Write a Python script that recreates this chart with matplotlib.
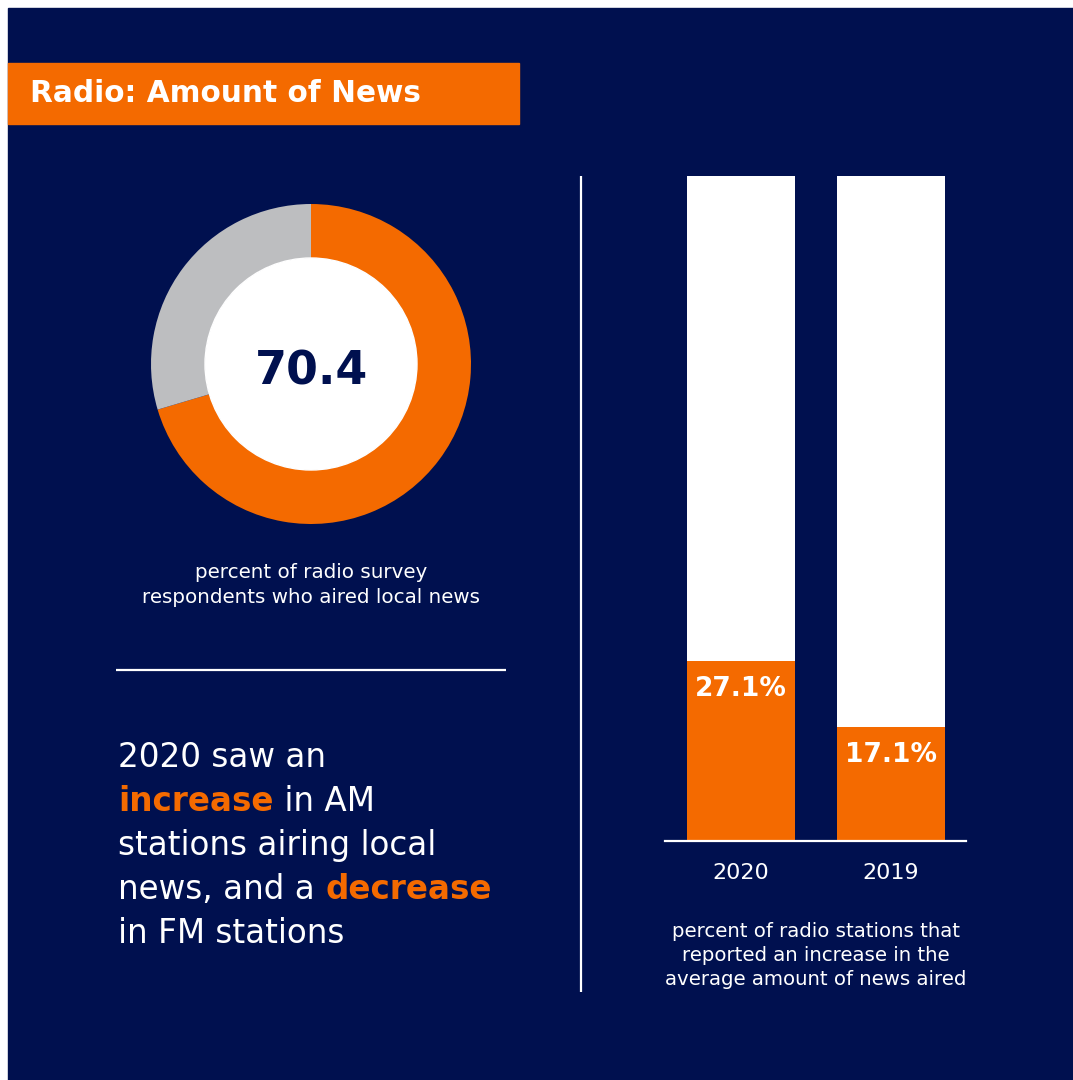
import matplotlib
matplotlib.use("Agg")
import matplotlib.pyplot as plt
from matplotlib.patches import Rectangle, Circle

# ---- data ----
title = "Radio: Amount of News"
donut_values = [70.4, 29.6]
donut_center_label = "70.4"
donut_caption = ["percent of radio survey", "respondents who aired local news"]
bar_years = ["2020", "2019"]
bar_values = [27.1, 17.1]
bar_total = 100
bar_caption = ["percent of radio stations that", "reported an increase in the", "average amount of news aired"]
statement = [
    [("2020 saw an", False)],
    [("increase", True), (" in AM", False)],
    [("stations airing local", False)],
    [("news, and a ", False), ("decrease", True)],
    [("in FM stations", False)],
]

NAVY = "#00104F"
ORANGE = "#F46A00"
GREY = "#BDBEC0"
WHITE = "#FFFFFF"

W, H = 1073, 1080
fig = plt.figure(figsize=(W / 100, H / 100), dpi=100, facecolor="white")
plt.rcParams['font.family'] = ['DejaVu Sans']


def px_axes(x0, y0, x1, y1, **kw):
    return fig.add_axes([x0 / W, 1 - y1 / H, (x1 - x0) / W, (y1 - y0) / H], **kw)

# background overlay axes in pixel coords
bg = fig.add_axes([0, 0, 1, 1], zorder=0)
bg.set_xlim(0, W)
bg.set_ylim(H, 0)
bg.axis("off")
bg.add_patch(Rectangle((8, 8), W, H, color=NAVY, zorder=0))

# title banner
bg.add_patch(Rectangle((8, 63), 511, 61, color=ORANGE, zorder=1))
bg.text(30, 102, title, color=WHITE, fontsize=21.3, fontweight="bold",
        va="baseline", ha="left", zorder=2)

# donut caption
for i, line in enumerate(donut_caption):
    bg.text(311, 578 + i * 25, line, color=WHITE, fontsize=14.3,
            ha="center", va="baseline")

# horizontal divider
bg.plot([116, 506], [670, 670], color=WHITE, lw=1.6, solid_capstyle="butt")
# vertical divider
bg.plot([581, 581], [176, 992], color=WHITE, lw=1.6, solid_capstyle="butt")

# statement with highlighted words
for i, parts in enumerate(statement):
    y = 767 + i * 44
    prev = None
    for txt, hl in parts:
        kw = dict(color=ORANGE if hl else WHITE, fontsize=23.5,
                  fontweight="bold" if hl else "normal")
        if prev is None:
            prev = bg.text(118, y, txt, ha="left", va="baseline", **kw)
        else:
            prev = bg.annotate(txt, xy=(1, 0), xycoords=prev, ha="left",
                               va="bottom", **kw)

# bar caption
for i, line in enumerate(bar_caption):
    bg.text(816, 937 + i * 24, line, color=WHITE, fontsize=14.2,
            ha="center", va="baseline")

# ---- donut ----
axd = px_axes(151, 204, 471, 524, zorder=2)
axd.set_facecolor("none")
axd.pie(donut_values, colors=[ORANGE, GREY], startangle=90, counterclock=False,
        radius=1.0, wedgeprops=dict(width=1 - 106 / 160, linewidth=0))
axd.add_patch(Circle((0, 0), 106 / 160, color=WHITE, zorder=3))
axd.annotate(donut_center_label, xy=(0, 0), xytext=(0, -3), textcoords="offset pixels",
             color=NAVY, fontsize=33, fontweight="bold",
             ha="center", va="center_baseline", zorder=4)
axd.set_xlim(-1, 1)
axd.set_ylim(-1, 1)
axd.set_aspect("equal")
axd.axis("off")

# ---- bars ----
axb = px_axes(665, 176, 966, 841, zorder=2)
axb.set_facecolor("none")
x = list(range(len(bar_years)))
axb.bar(x, [bar_total] * len(x), width=0.72, color=WHITE, linewidth=0)
axb.bar(x, bar_values, width=0.72, color=ORANGE, linewidth=0)
for xi, v in zip(x, bar_values):
    axb.annotate(f"{v}%", xy=(xi, v), xytext=(0, -28), textcoords="offset pixels",
                 ha="center", va="center", color=WHITE, fontsize=19,
                 fontweight="bold")
axb.set_xlim(-76 / 150, 1 + 75 / 150)
axb.set_ylim(0, bar_total)
axb.set_xticks(x)
axb.set_xticklabels(bar_years, color=WHITE, fontsize=16)
axb.tick_params(axis="x", length=0, pad=16)
axb.set_yticks([])
for s in ["top", "left", "right"]:
    axb.spines[s].set_visible(False)
axb.spines["bottom"].set_color(WHITE)
axb.spines["bottom"].set_linewidth(1.6)

fig.savefig("out.png", dpi=100, facecolor="white")
